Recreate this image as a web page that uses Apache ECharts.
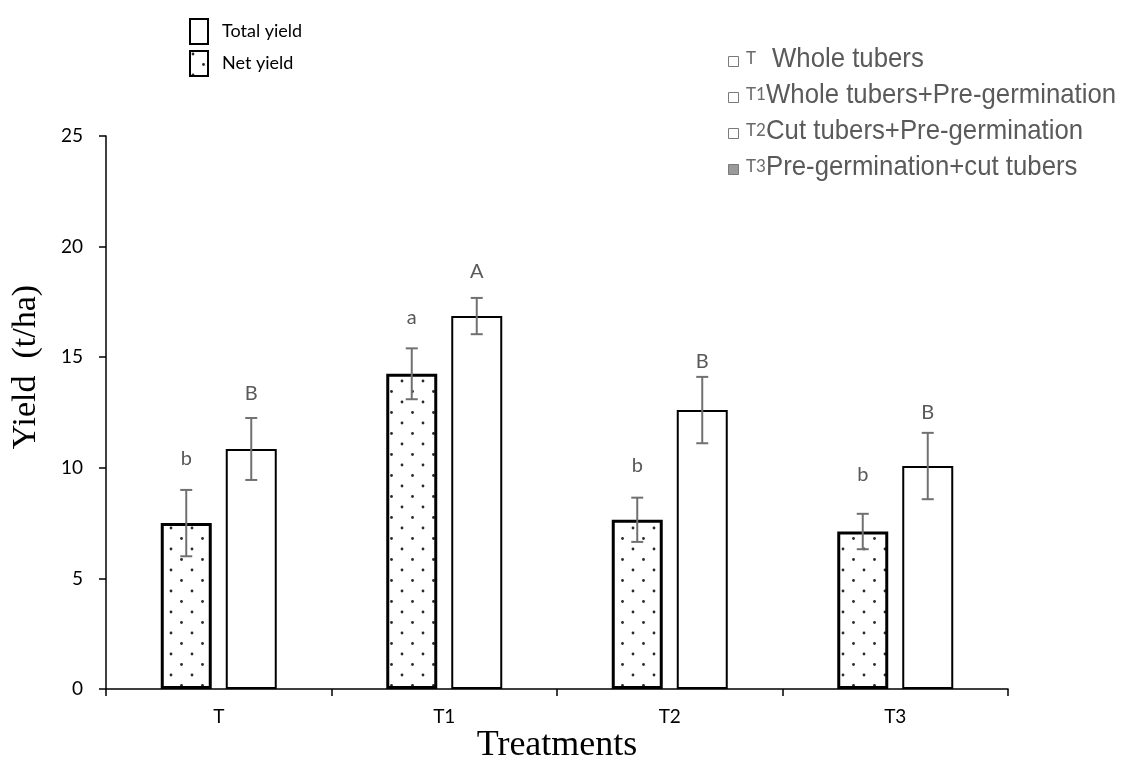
<!DOCTYPE html>
<html>
<head>
<meta charset="utf-8">
<script src="https://cdn.jsdelivr.net/npm/echarts@6/dist/echarts.min.js"></script>
<style>
html,body{margin:0;padding:0;background:#fff;}
#chart{width:1126px;height:772px;}
</style>
</head>
<body>
<div id="chart"></div>
<script>
// ---- data ----
const categories = ['T', 'T1', 'T2', 'T3'];
const netYield = [7.5, 14.25, 7.65, 7.12];
const netErr = [1.5, 1.15, 1.0, 0.8];
const totalYield = [10.85, 16.86, 12.61, 10.08];
const totalErr = [1.4, 0.82, 1.5, 1.5];
const netLetters = ['b', 'a', 'b', 'b'];
const totalLetters = ['B', 'A', 'B', 'B'];
const netLetterPos = [10.4, 16.8, 10.1, 9.7];
const totalLetterPos = [13.35, 18.85, 14.8, 12.5];
const yMin = 0, yMax = 25, yStep = 5;
const legendNames = ['Total yield', 'Net yield'];
const treatmentCodes = ['T', 'T1', 'T2', 'T3'];
const treatmentNames = ['Whole tubers', 'Whole tubers+Pre-germination', 'Cut tubers+Pre-germination', 'Pre-germination+cut tubers'];

// ---- styling ----
const BAR_W = 51;
const GAP = 14;
const sansFont = 'Lato, "Open Sans", sans-serif';
const serifFont = '"Liberation Serif", "DejaVu Serif", serif';

function makeDots() {
  const c = document.createElement('canvas');
  c.width = 21; c.height = 21;
  const ctx = c.getContext('2d');
  ctx.fillStyle = '#fff';
  ctx.fillRect(0, 0, 21, 21);
  ctx.fillStyle = '#2a2a2a';
  [[3, 3], [13.5, 13.5]].forEach(p => {
    ctx.beginPath(); ctx.arc(p[0], p[1], 1.4, 0, Math.PI * 2); ctx.fill();
  });
  return c;
}
const dotPattern = { image: makeDots(), repeat: 'repeat' };

function errRenderer(values, errs, letters, letterPos, sign) {
  return function (params, api) {
    const i = api.value(0);
    const off = sign * (BAR_W + GAP) / 2;
    const x = api.coord([i, values[i]])[0] + off;
    const yTop = api.coord([i, values[i] + errs[i]])[1];
    const yBot = api.coord([i, values[i] - errs[i]])[1];
    const yLet = api.coord([i, letterPos[i]])[1];
    const st = { stroke: '#707070', lineWidth: 2 };
    return {
      type: 'group',
      children: [
        { type: 'line', shape: { x1: x, y1: yTop, x2: x, y2: yBot }, style: st },
        { type: 'line', shape: { x1: x - 6, y1: yTop, x2: x + 6, y2: yTop }, style: st },
        { type: 'line', shape: { x1: x - 6, y1: yBot, x2: x + 6, y2: yBot }, style: st },
        { type: 'text', x: x, y: yLet, style: { text: letters[i], fill: '#595959', font: '20px ' + sansFont, align: 'center', verticalAlign: 'middle' } }
      ]
    };
  };
}

const rowY = [61, 97, 133, 169];
const legendGraphics = [];
treatmentCodes.forEach((code, i) => {
  const y = rowY[i];
  legendGraphics.push({
    type: 'rect', left: 728, top: y - 5,
    shape: { width: 10, height: 10 },
    style: { fill: i === 3 ? '#9a9a9a' : '#fff', stroke: '#7a7a7a', lineWidth: 1 }
  });
  legendGraphics.push({
    type: 'text', left: 746, top: y - 11,
    style: { text: code, fill: '#6a6a6a', font: '17px ' + sansFont }
  });
  legendGraphics.push({
    type: 'text', left: i === 0 ? 772 : 766, top: y - 16, scaleX: 0.92,
    style: { text: treatmentNames[i], fill: '#5a5a5a', font: '28px "Liberation Sans", Arial, sans-serif' }
  });
});
legendGraphics.push({
  type: 'text', rotation: Math.PI / 2, x: 26, y: 367,
  style: { text: 'Yield  (t/ha)', fill: '#000', font: '34px ' + serifFont, align: 'center', verticalAlign: 'middle' }
});
legendGraphics.push({
  type: 'text', x: 557, y: 746,
  style: { text: 'Treatments', fill: '#000', font: '36px ' + serifFont, align: 'center', verticalAlign: 'middle' }
});

const chart = echarts.init(document.getElementById('chart'), null, { renderer: 'canvas' });
chart.setOption({
  backgroundColor: '#fff',
  animation: false,
  grid: { left: 106, right: 118, top: 136, bottom: 83, containLabel: false },
  legend: {
    data: legendNames,
    orient: 'vertical',
    left: 184, top: 13,
    itemWidth: 18, itemHeight: 25, itemGap: 5,
    icon: 'rect',
    textStyle: { fontFamily: sansFont, fontSize: 18, color: '#000', padding: [0, 0, 0, 9] },
    itemStyle: { borderColor: '#000', borderWidth: 2 }
  },
  xAxis: {
    type: 'category',
    data: categories,
    axisLine: { lineStyle: { color: '#000', width: 1.5 } },
    axisTick: { show: true, length: 7, lineStyle: { color: '#000', width: 1.5 } },
    axisLabel: { color: '#000', fontFamily: sansFont, fontSize: 19, margin: 18 },
    splitLine: { show: false }
  },
  yAxis: {
    type: 'value',
    min: yMin, max: yMax, interval: yStep,
    axisLine: { show: true, lineStyle: { color: '#000', width: 1.5 } },
    axisTick: { show: true, length: 7, lineStyle: { color: '#000', width: 1.5 } },
    axisLabel: { color: '#000', fontFamily: sansFont, fontSize: 19, margin: 23 },
    splitLine: { show: false }
  },
  graphic: legendGraphics,
  series: [
    {
      name: 'Net yield', type: 'bar', data: netYield,
      barWidth: BAR_W, barGap: (GAP / BAR_W * 100) + '%',
      itemStyle: { color: dotPattern, borderColor: '#000', borderWidth: 3 }
    },
    {
      name: 'Total yield', type: 'bar', data: totalYield,
      barWidth: BAR_W,
      itemStyle: { color: '#fff', borderColor: '#000', borderWidth: 2 }
    },
    {
      name: 'netErr', type: 'custom', data: categories.map((c, i) => [i, netYield[i]]),
      renderItem: errRenderer(netYield, netErr, netLetters, netLetterPos, -1), z: 5
    },
    {
      name: 'totalErr', type: 'custom', data: categories.map((c, i) => [i, totalYield[i]]),
      renderItem: errRenderer(totalYield, totalErr, totalLetters, totalLetterPos, 1), z: 5
    }
  ]
});
</script>
</body>
</html>
